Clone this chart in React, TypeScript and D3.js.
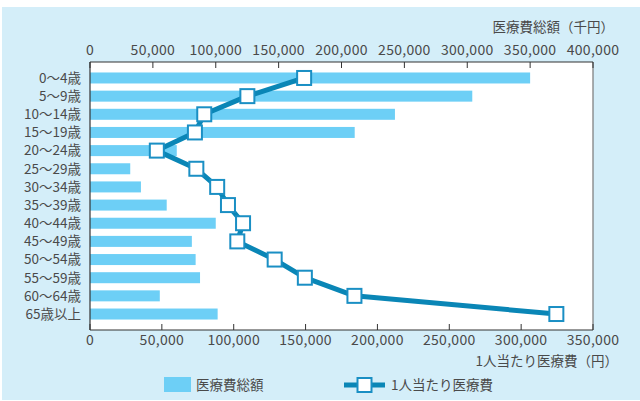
import * as d3 from 'd3';

const ageGroups = [
  '0～4歳', '5～9歳', '10～14歳', '15～19歳', '20～24歳', '25～29歳', '30～34歳',
  '35～39歳', '40～44歳', '45～49歳', '50～54歳', '55～59歳', '60～64歳', '65歳以上',
];
// 医療費総額 (千円)
const totalCost = [
  350000, 304000, 242500, 210500, 69000, 32000, 40500,
  61000, 100000, 81000, 84000, 87500, 55500, 101500,
];
// 1人当たり医療費 (円)
const perCapitaCost = [
  149000, 109500, 79500, 73000, 46500, 74000, 88500,
  96000, 106500, 102500, 128500, 149500, 184000, 324500,
];
const topTicks = [0, 50000, 100000, 150000, 200000, 250000, 300000, 350000, 400000];
const bottomTicks = [0, 50000, 100000, 150000, 200000, 250000, 300000, 350000];

const W = 640;
const H = 401;
const plot = { left: 90, right: 593, top: 62, bottom: 330 };
const font = '"Noto Sans CJK JP", "Noto Sans", sans-serif';
const textColor = '#4a4a4a';
const barColor = '#6dcff6';
const lineColor = '#0a86b6';
const markerStroke = '#1a8fc4';

const fmt = d3.format(',');

export default function App() {
  const xTop = d3.scaleLinear().domain([0, 400000]).range([plot.left, plot.right]);
  const xBottom = d3.scaleLinear().domain([0, 350000]).range([plot.left, plot.right]);
  const y = d3.scalePoint<string>().domain(ageGroups).range([plot.top, plot.bottom]).padding(0.88);
  const barH = 11;
  const m = 14;

  const line = d3
    .line<number>()
    .x(d => xBottom(d))
    .y((_, i) => y(ageGroups[i]) ?? 0);

  return (
    <svg
      width={W}
      height={H}
      style={{ position: 'absolute', left: 0, top: 0, fontFamily: font }}
    >
      <rect x={0} y={0} width={W} height={H} fill="#fff" />
      <rect x={2} y={7} width={W - 2} height={H - 8} fill="#d4eef9" />
      <rect
        x={plot.left}
        y={plot.top}
        width={plot.right - plot.left}
        height={plot.bottom - plot.top}
        fill="#fff"
      />

      {/* bars */}
      {totalCost.map((v, i) => (
        <rect
          key={ageGroups[i]}
          x={xTop(0)}
          y={(y(ageGroups[i]) ?? 0) - barH / 2}
          width={xTop(v) - xTop(0)}
          height={barH}
          fill={barColor}
        />
      ))}

      {/* frame */}
      <line x1={plot.right} x2={plot.right} y1={plot.top} y2={plot.bottom} stroke="#777" strokeWidth={1.2} />
      <line x1={plot.left} x2={plot.right} y1={plot.top} y2={plot.top} stroke="#333" strokeWidth={1.2} />
      <line x1={plot.left} x2={plot.right} y1={plot.bottom} y2={plot.bottom} stroke="#333" strokeWidth={1.2} />
      <line x1={plot.left} x2={plot.left} y1={plot.top} y2={plot.bottom} stroke="#333" strokeWidth={1.2} />

      {/* top axis */}
      {topTicks.map(t => (
        <g key={'t' + t}>
          <line x1={xTop(t)} x2={xTop(t)} y1={plot.top} y2={plot.top + 6} stroke="#333" />
          <text x={xTop(t)} y={55} textAnchor="middle" fontSize={14} letterSpacing={0.3} fill={textColor}>
            {fmt(t)}
          </text>
        </g>
      ))}
      <text x={614} y={32} textAnchor="end" fontSize={13.5} fill={textColor}>
        医療費総額（千円）
      </text>

      {/* bottom axis */}
      {bottomTicks.map(t => (
        <g key={'b' + t}>
          <line x1={xBottom(t)} x2={xBottom(t)} y1={plot.bottom} y2={plot.bottom - 6} stroke="#333" />
          <text x={xBottom(t)} y={345} textAnchor="middle" fontSize={14} letterSpacing={0.3} fill={textColor}>
            {fmt(t)}
          </text>
        </g>
      ))}
      <text x={618} y={366} textAnchor="end" fontSize={13.5} fill={textColor}>
        1人当たり医療費（円）
      </text>

      {/* category labels */}
      {ageGroups.map(a => (
        <text key={a} x={81} y={(y(a) ?? 0) + 4.8} textAnchor="end" fontSize={13.5} fill={textColor}>
          {a}
        </text>
      ))}

      {/* line series */}
      <path d={line(perCapitaCost) ?? ''} fill="none" stroke={lineColor} strokeWidth={5} strokeLinejoin="round" />
      {perCapitaCost.map((v, i) => (
        <rect
          key={'m' + i}
          x={xBottom(v) - m / 2}
          y={(y(ageGroups[i]) ?? 0) - m / 2}
          width={m}
          height={m}
          fill="#fff"
          stroke={markerStroke}
          strokeWidth={2}
        />
      ))}

      {/* legend */}
      <rect x={164} y={377} width={27} height={15} fill={barColor} />
      <text x={196} y={389.5} fontSize={13.5} fill={textColor}>
        医療費総額
      </text>
      <line x1={344} x2={385} y1={385} y2={385} stroke={lineColor} strokeWidth={5} />
      <rect x={357.5} y={378} width={14} height={14} fill="#fff" stroke={markerStroke} strokeWidth={2} />
      <text x={391} y={389.5} fontSize={13.5} fill={textColor}>
        1人当たり医療費
      </text>
    </svg>
  );
}
